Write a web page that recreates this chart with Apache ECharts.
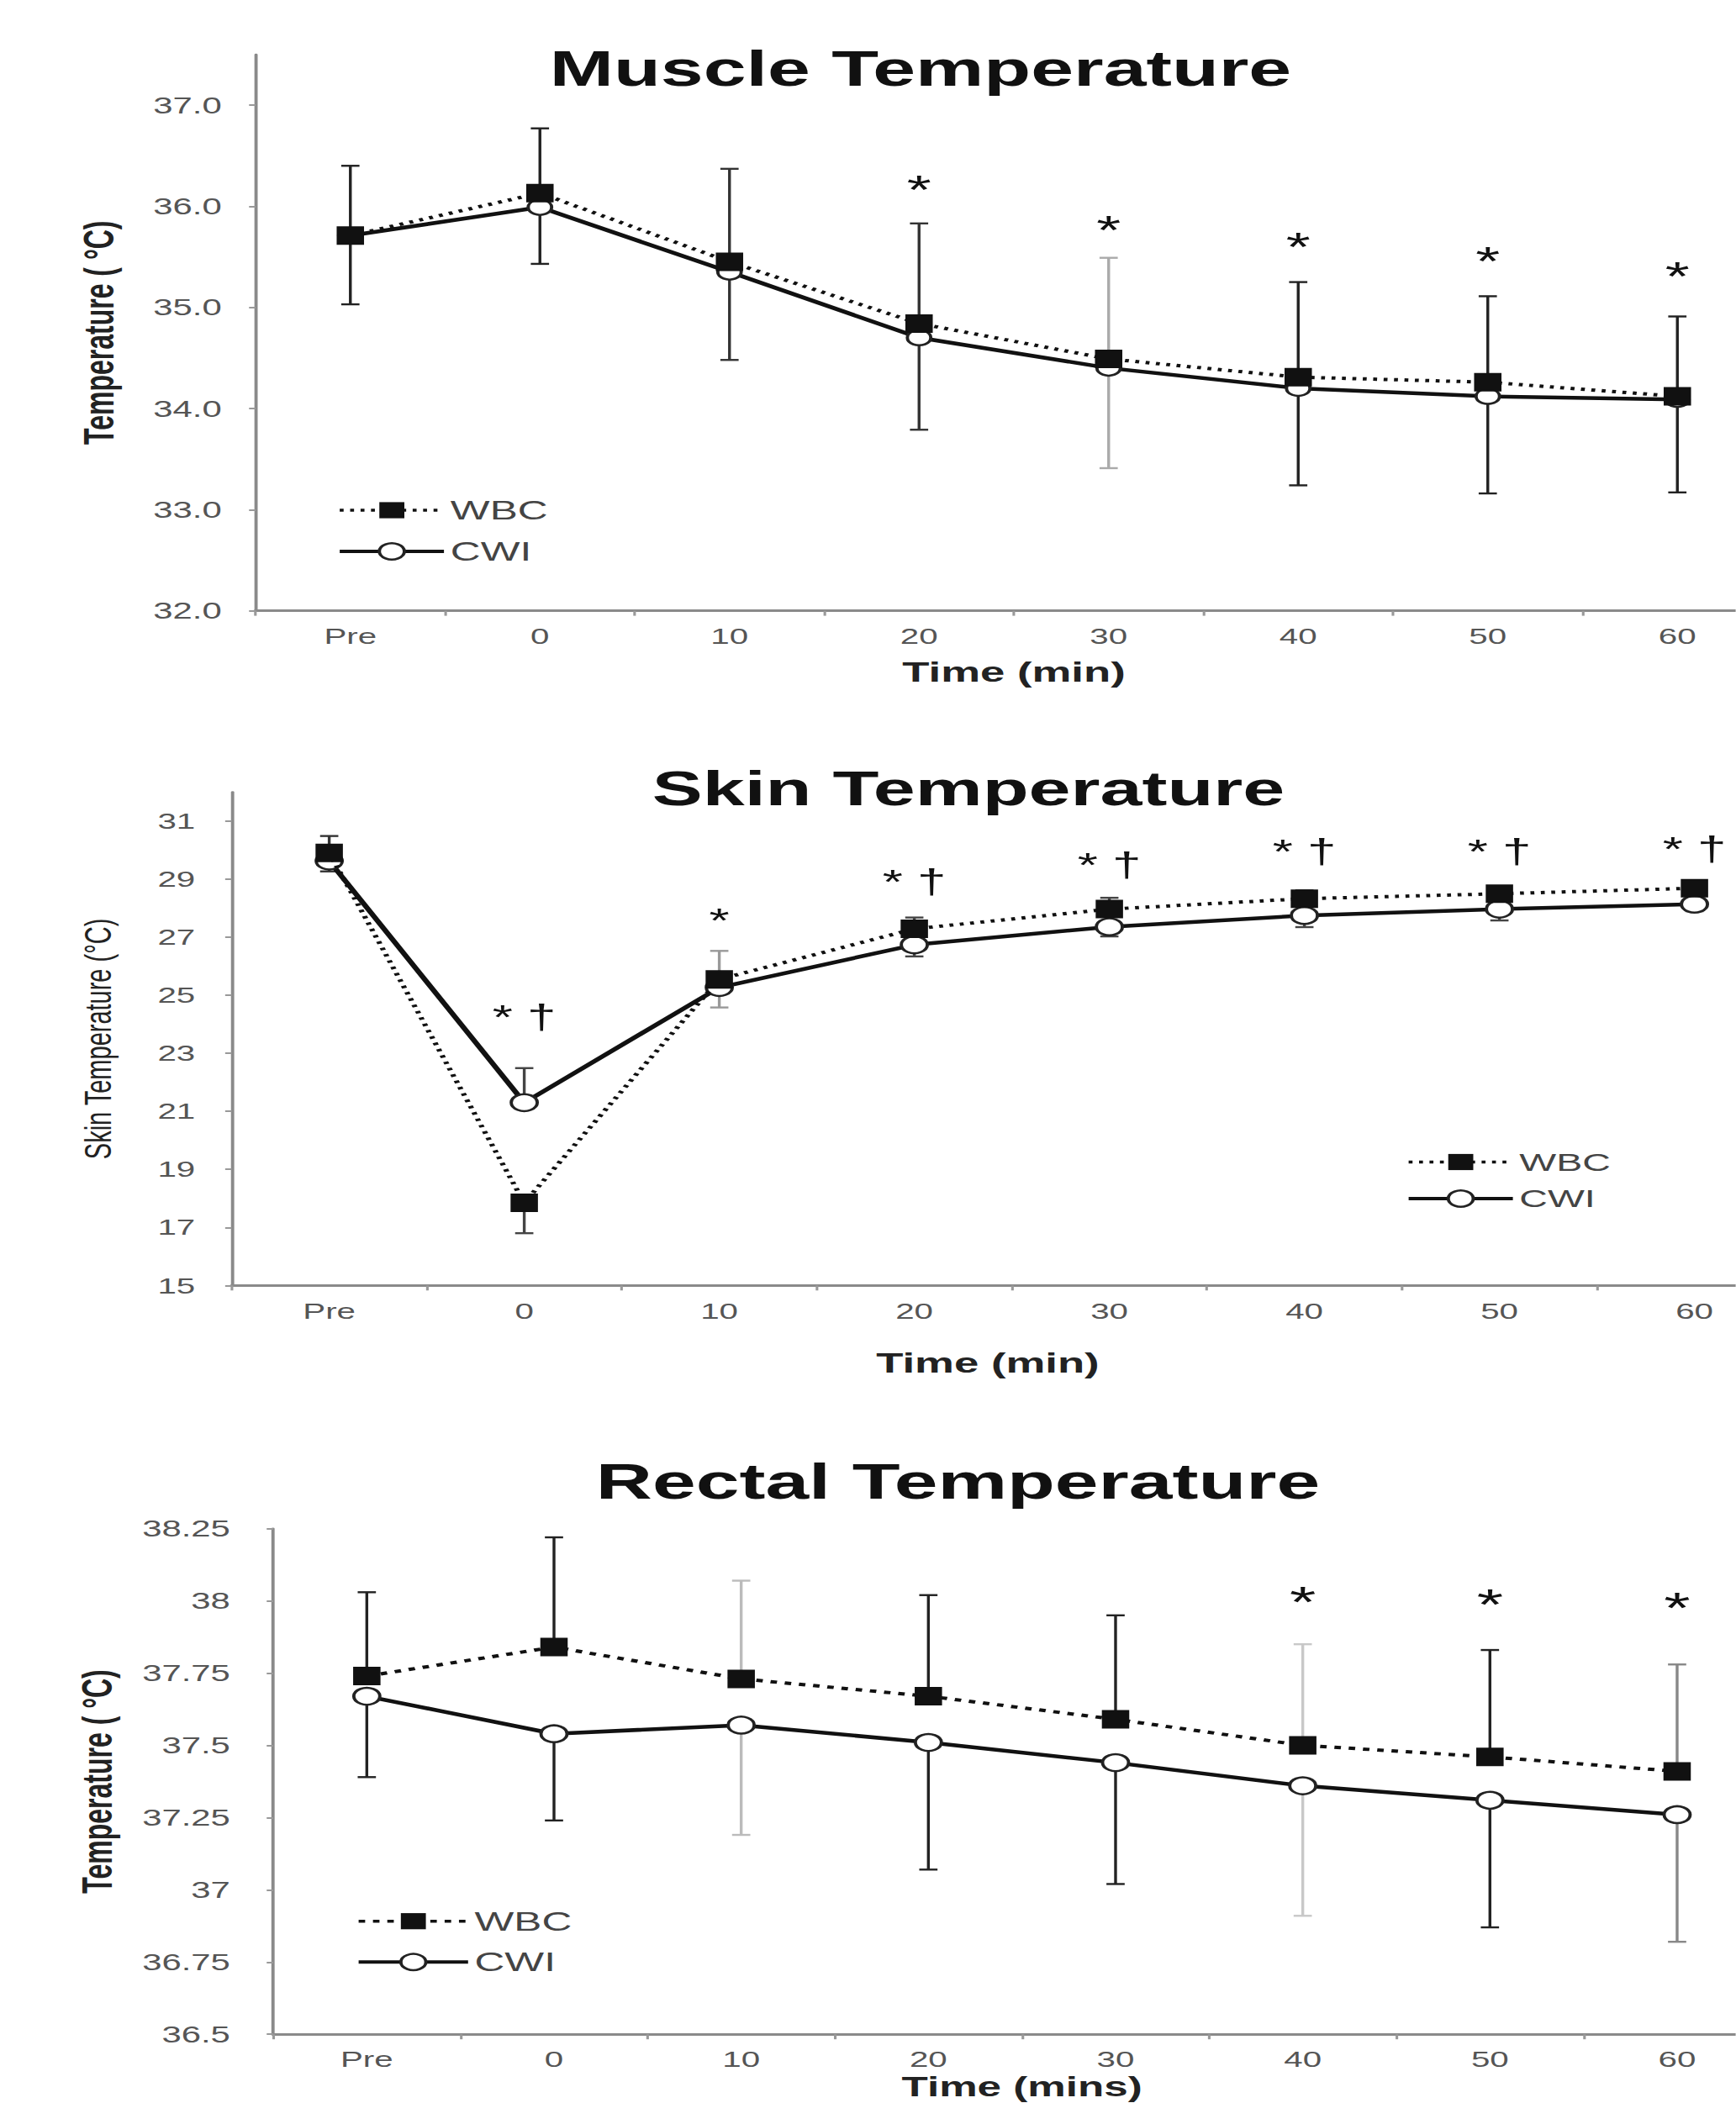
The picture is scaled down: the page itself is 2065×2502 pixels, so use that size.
<!DOCTYPE html>
<html><head><meta charset="utf-8">
<script src="https://cdn.jsdelivr.net/npm/echarts@6/dist/echarts.min.js"></script>
<style>
html,body{margin:0;padding:0;background:#fff;overflow:hidden;width:2065px;height:2502px;}
#chart{position:absolute;left:0;top:0;height:2502px;transform-origin:0 0;}
</style></head><body><div id="chart"></div>
<script>
// ---------- data ----------
const categories = ['Pre', '0', '10', '20', '30', '40', '50', '60'];

// Muscle temperature
const muscleWBC = [35.71, 36.13, 35.45, 34.84, 34.49, 34.31, 34.26, 34.12];
const muscleCWI = [35.71, 35.99, 35.35, 34.70, 34.40, 34.20, 34.12, 34.09];
const muscleWBCBarEnd = [36.40, 36.77, 36.37, 35.83, 35.49, 35.25, 35.11, 34.91];
const muscleCWIBarEnd = [35.03, 35.43, 34.48, 33.79, 33.41, 33.24, 33.16, 33.17];
const muscleSigText = ['', '', '', '*', '*', '*', '*', '*'];
const muscleSigAt = [null, null, null, 36.26, 35.86, 35.69, 35.55, 35.40];

// Skin temperature
const skinWBC = [29.91, 17.85, 25.55, 27.29, 27.97, 28.33, 28.50, 28.69];
const skinCWI = [29.63, 21.30, 25.27, 26.74, 27.36, 27.75, 27.97, 28.14];
const skinWBCBarEnd = [30.49, 16.80, 26.53, 27.68, 28.36, 28.62, 28.76, 28.95];
const skinCWIBarEnd = [29.27, 22.49, 24.58, 26.34, 27.03, 27.35, 27.58, 27.90];
const skinSigText = ['', '* \u2020', '*', '* \u2020', '* \u2020', '* \u2020', '* \u2020', '* \u2020'];
const skinSigAt = [null, 24.25, 27.82, 28.90, 29.48, 29.94, 29.94, 30.03];

// Rectal temperature
const rectalWBC = [37.74, 37.84, 37.73, 37.67, 37.59, 37.50, 37.46, 37.41];
const rectalCWI = [37.67, 37.54, 37.57, 37.51, 37.44, 37.36, 37.31, 37.26];
const rectalWBCBarEnd = [38.03, 38.22, 38.07, 38.02, 37.95, 37.85, 37.83, 37.78];
const rectalCWIBarEnd = [37.39, 37.24, 37.19, 37.07, 37.02, 36.91, 36.87, 36.82];
const rectalSigText = ['', '', '', '', '', '*', '*', '*'];
const rectalSigAt = [null, null, null, null, null, 38.03, 38.02, 38.01];

// ---------- styles ----------
const muscleBarColors = ['#222', '#222', '#333', '#333', '#aaa', '#222', '#222', '#222'];
const skinBarColors = ['#333', '#444', '#999', '#444', '#444', '#444', '#444', '#444'];
const rectalBarColors = ['#222', '#222', '#bbb', '#222', '#222', '#c8c8c8', '#222', '#888'];

const S = 1.55;               // horizontal stretch of the reference
const W = 2065 / S;
const X = v => v / S;
const FF = "'Liberation Sans', Arial, Helvetica, sans-serif";

const dom = document.getElementById('chart');
dom.style.width = W + 'px';
dom.style.transform = 'scaleX(' + S + ')';
const chart = echarts.init(dom, null, {renderer: 'svg', width: W, height: 2502});

function errBars(means, ends, colors, xi) {
  return {
    type: 'custom', xAxisIndex: xi, yAxisIndex: xi, z: 1, silent: true,
    data: means.map((m, i) => [i, m, ends[i]]),
    renderItem: (params, api) => {
      const i = api.value(0);
      const a = api.coord([i, api.value(1)]);
      const b = api.coord([i, api.value(2)]);
      const c = colors[params.dataIndex];
      const hw = 7;
      return {type: 'group', children: [
        {type: 'line', shape: {x1: a[0], y1: a[1], x2: b[0], y2: b[1]}, style: {stroke: c, lineWidth: 2.2}},
        {type: 'line', shape: {x1: b[0] - hw, y1: b[1], x2: b[0] + hw, y2: b[1]}, style: {stroke: c, lineWidth: 2.4}}
      ]};
    }
  };
}

function sigSeries(texts, at, fontSize, xi) {
  const data = [], labels = [];
  texts.forEach((t, i) => { if (t) { data.push([i, at[i]]); labels.push(t); } });
  return {
    type: 'custom', xAxisIndex: xi, yAxisIndex: xi, z: 6, silent: true, data,
    renderItem: (params, api) => {
      const p = api.coord([api.value(0), api.value(1)]);
      const t = labels[params.dataIndex];
      const off = t === '*' ? 0.22 * fontSize : 0;
      return {type: 'text', x: p[0], y: p[1] + off,
        style: {text: t, fontSize: fontSize, fontFamily: FF, fill: '#111', align: 'center', verticalAlign: 'middle'}};
    }
  };
}

function lines(wbc, cwi, xi, dash, circleSize) {
  return [
    {type: 'line', name: 'CWI', xAxisIndex: xi, yAxisIndex: xi, data: cwi, z: 3,
     symbol: 'circle', symbolSize: circleSize, showAllSymbol: true,
     itemStyle: {color: '#fff', borderColor: '#222', borderWidth: 2.5},
     lineStyle: {color: '#111', width: 4.5}},
    {type: 'line', name: 'WBC', xAxisIndex: xi, yAxisIndex: xi, data: wbc, z: 4,
     symbol: 'rect', symbolSize: [21, 22], showAllSymbol: true,
     itemStyle: {color: '#111'},
     lineStyle: {color: '#111', width: 4, type: dash}}
  ];
}

function xAxisOpt(gi, name, nameGap, nameSize, namePad) {
  return {
    gridIndex: gi, type: 'category', data: categories, boundaryGap: true,
    axisLine: {lineStyle: {color: '#8a8a8a', width: 3}},
    axisTick: {show: true, length: 6, lineStyle: {color: '#999', width: 2}},
    axisLabel: {fontSize: 26, color: '#555', margin: 17, fontFamily: FF},
    splitLine: {show: false},
    name: name, nameLocation: 'middle', nameGap: nameGap,
    nameTextStyle: {fontSize: nameSize, fontWeight: 'bold', color: '#222', fontFamily: FF, padding: namePad}
  };
}

function yAxisOpt(gi, min, max, interval, fmt, name, nameGap, nameSize, nameWeight, labelSize, margin) {
  return {
    gridIndex: gi, type: 'value', min: min, max: max, interval: interval,
    axisLine: {show: true, lineStyle: {color: '#8a8a8a', width: 2.5}},
    axisTick: {show: true, length: 5, lineStyle: {color: '#999', width: 2}},
    axisLabel: {fontSize: labelSize, color: '#555', margin: margin, fontFamily: FF, formatter: fmt, showMaxLabel: fmt ? false : true},
    splitLine: {show: false},
    name: name, nameLocation: 'middle', nameGap: nameGap, nameRotate: 90, nameMoveOverlap: false,
    nameTextStyle: {fontSize: nameSize, fontWeight: nameWeight, color: '#222', fontFamily: FF}
  };
}

function legendOpt(left, top, itemWidth, itemHeight, gap, fontSize, dashW) {
  return {
    orient: 'vertical', left: left, top: top, padding: 0, itemGap: gap,
    itemWidth: itemWidth, itemHeight: itemHeight, selectedMode: false,
    textStyle: {fontSize: fontSize, color: '#444', fontFamily: FF},
    data: [
      {name: 'WBC', itemStyle: {color: '#111', borderWidth: 0}, lineStyle: {color: '#111', width: 3.5, type: dashW}},
      {name: 'CWI', itemStyle: {color: '#fff', borderColor: '#222', borderWidth: 2.5}, lineStyle: {color: '#111', width: 4, type: 'solid'}}
    ]
  };
}

const titleStyle = size => ({fontSize: size, fontWeight: 'bold', color: '#111', fontFamily: FF});

const option = {
  backgroundColor: '#fff',
  animation: false,
  title: [
    {text: 'Muscle Temperature', left: X(1095), top: 52, textAlign: 'center', padding: 0, textStyle: titleStyle(59)},
    {text: 'Skin Temperature', left: X(1152), top: 909, textAlign: 'center', padding: 0, textStyle: titleStyle(58)},
    {text: 'Rectal Temperature', left: X(1139.5), top: 1732, textAlign: 'center', padding: 0, textStyle: titleStyle(60)}
  ],
  legend: [
    legendOpt(X(401), 591, 80, 24, 17, 32, [3, 5]),
    legendOpt(X(1672.5), 1367.5, 80, 24, 13.5, 30, [3, 5]),
    legendOpt(X(423.5), 2269.7, 84, 24, 16.6, 32, [5, 6])
  ],
  grid: [
    {left: X(304), width: X(2108 - 304), top: 64.9, height: 661.7, outerBoundsMode: 'none', containLabel: false},
    {left: X(275.6), width: X(2131.6 - 275.6), top: 942.5, height: 586.8, outerBoundsMode: 'none', containLabel: false},
    {left: X(325), width: X(2106.3 - 325), top: 1818.7, height: 601.5, outerBoundsMode: 'none', containLabel: false}
  ],
  xAxis: [
    xAxisOpt(0, 'Time (min)', 56, 34, [0, 0, 0, 0]),
    xAxisOpt(1, 'Time (min)', 75, 34, [0, 37, 0, 0]),
    xAxisOpt(2, 'Time (mins)', 46, 33, [0, 0, 0, 0])
  ],
  yAxis: [
    yAxisOpt(0, 32, 37.5, 1, v => (v > 37.2 ? '' : v.toFixed(1)), 'Temperature ( \u00B0C)', 104, 32, 'bold', 27, 26),
    yAxisOpt(1, 15, 32, 2, v => (v > 31.5 ? '' : String(v)), 'Skin Temperature (\u00B0C)', 88, 29, 'normal', 26, 28),
    yAxisOpt(2, 36.5, 38.25, 0.25, null, 'Temperature ( \u00B0C)', 119, 32, 'bold', 27, 33)
  ],
  series: [
    errBars(muscleWBC, muscleWBCBarEnd, muscleBarColors, 0),
    errBars(muscleCWI, muscleCWIBarEnd, muscleBarColors, 0),
    ...lines(muscleWBC, muscleCWI, 0, [3, 5], 18),
    sigSeries(muscleSigText, muscleSigAt, 48, 0),

    errBars(skinWBC, skinWBCBarEnd, skinBarColors, 1),
    errBars(skinCWI, skinCWIBarEnd, skinBarColors, 1),
    ...lines(skinWBC, skinCWI, 1, [3, 5], 20),
    sigSeries(skinSigText, skinSigAt, 40, 1),

    errBars(rectalWBC, rectalWBCBarEnd, rectalBarColors, 2),
    errBars(rectalCWI, rectalCWIBarEnd, rectalBarColors, 2),
    ...lines(rectalWBC, rectalCWI, 2, [5, 6], 20),
    sigSeries(rectalSigText, rectalSigAt, 52, 2)
  ]
};
chart.setOption(option);
</script></body></html>
